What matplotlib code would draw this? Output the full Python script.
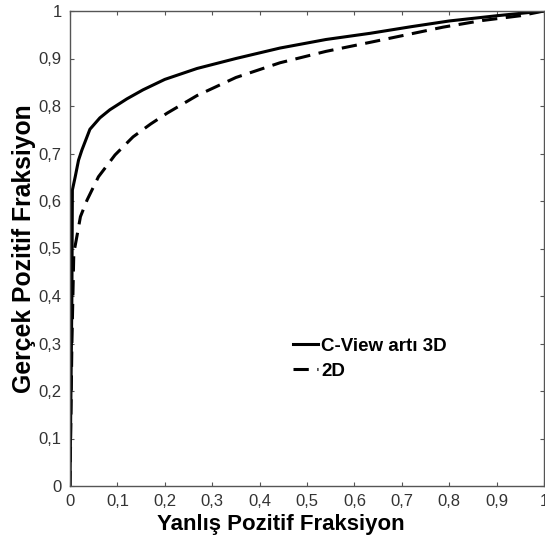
import matplotlib
matplotlib.use('Agg')
import matplotlib.pyplot as plt

# ROC curve points
fpr_3d = [0, 0.004, 0.005, 0.011, 0.018, 0.025, 0.042, 0.063, 0.084, 0.12,
          0.154, 0.2, 0.268, 0.35, 0.443, 0.54, 0.633, 0.72, 0.80, 0.90, 1.0]
tpr_3d = [0, 0.40, 0.623, 0.651, 0.686, 0.707, 0.751, 0.775, 0.792, 0.815,
          0.834, 0.856, 0.879, 0.90, 0.922, 0.94, 0.953, 0.967, 0.979, 0.99, 1.0]

fpr_2d = [0, 0.004, 0.008, 0.015, 0.022, 0.036, 0.06, 0.095, 0.133, 0.17,
          0.205, 0.268, 0.35, 0.443, 0.54, 0.633, 0.72, 0.787, 0.87, 0.95, 1.0]
tpr_2d = [0, 0.30, 0.49, 0.528, 0.567, 0.602, 0.651, 0.697, 0.735, 0.762,
          0.785, 0.822, 0.86, 0.891, 0.915, 0.934, 0.952, 0.966, 0.98, 0.99, 1.0]

ticks = [i / 10 for i in range(11)]
tick_labels = ['0', '0,1', '0,2', '0,3', '0,4', '0,5', '0,6', '0,7', '0,8', '0,9', '1']

plt.rcParams['font.family'] = ['Liberation Sans', 'DejaVu Sans']

fig = plt.figure(figsize=(5.45, 5.44), dpi=100)
ax = fig.add_axes([70 / 545, 1 - 486 / 544, 474 / 545, 475 / 544])

ax.plot(fpr_3d, tpr_3d, color='black', lw=2.2, label='C-View artı 3D')
ax.plot(fpr_2d, tpr_2d, color='black', lw=2.2, linestyle=(0, (5, 2.8)), label='2D')

ax.set_xlim(0, 1)
ax.set_ylim(0, 1)
ax.set_xticks(ticks)
ax.set_xticklabels(tick_labels)
ax.set_yticks(ticks)
ax.set_yticklabels(tick_labels)
ax.tick_params(direction='in', length=3, width=0.8, top=True, right=True,
               labelsize=12, labelcolor='#333333', color='#555555', pad=6)
for s in ax.spines.values():
    s.set_color('#555555')
    s.set_linewidth(1.0)

ax.set_xlabel('Yanlış Pozitif Fraksiyon', fontsize=16, fontweight='bold')
ax.xaxis.set_label_coords(0.445, -0.059)
ax.set_ylabel('Gerçek Pozitif Fraksiyon', fontsize=17.8, fontweight='bold')
ax.yaxis.set_label_coords(-0.072, 0.5)

ax.legend(loc='upper left', bbox_to_anchor=(0.47, 0.312), frameon=False,
          handlelength=1.35, handletextpad=0.15, borderpad=0, borderaxespad=0,
          labelspacing=0.42, prop={'size': 13.5, 'weight': 'bold'})

fig.savefig('out.png', dpi=100)
